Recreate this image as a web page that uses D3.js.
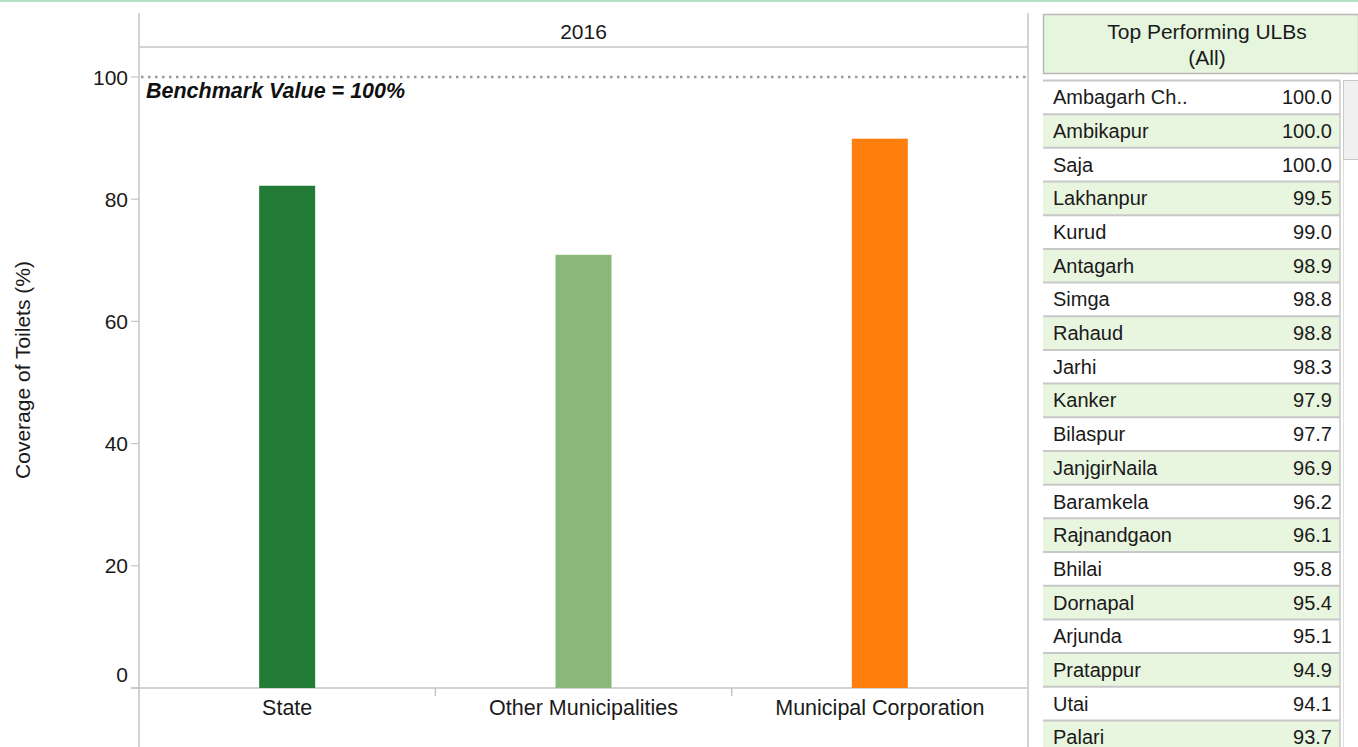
<!DOCTYPE html>
<html><head><meta charset="utf-8">
<script src="https://cdnjs.cloudflare.com/ajax/libs/d3/7.8.5/d3.min.js"></script>
<style>body{margin:0;background:#fff;font-family:Arial,"Liberation Sans",sans-serif;}</style>
</head><body><svg id="c" width="1358" height="747"></svg>
<script>
const categories = ["State", "Other Municipalities", "Municipal Corporation"];
const coverage = [82.2, 70.9, 89.9];
const barColors = ["#227b37", "#8ab77b", "#ff7f0e"];
const yTicks = [0, 20, 40, 60, 80, 100];
const benchmark = 100;
const yearLabel = "2016";
const ulbNames = ["Ambagarh Ch..", "Ambikapur", "Saja", "Lakhanpur", "Kurud", "Antagarh", "Simga", "Rahaud", "Jarhi", "Kanker", "Bilaspur", "JanjgirNaila", "Baramkela", "Rajnandgaon", "Bhilai", "Dornapal", "Arjunda", "Pratappur", "Utai", "Palari"];
const ulbValues = [100.0, 100.0, 100.0, 99.5, 99.0, 98.9, 98.8, 98.8, 98.3, 97.9, 97.7, 96.9, 96.2, 96.1, 95.8, 95.4, 95.1, 94.9, 94.1, 93.7];

(function(){
const svg = d3.select("#c");
const font = '"Liberation Sans",Arial,sans-serif';
const axisGrey = "#c4c4c4";
const txt = "#1a1a1a";

svg.append("rect").attr("x",0).attr("y",0).attr("width",1358).attr("height",2).attr("fill","#b5e3c4");

const pL = 139, pR = 1028, pT = 77, pB = 688;
const x = d3.scaleBand().domain(categories).range([pL, pR]);
const y = d3.scaleLinear().domain([0, 100]).range([pB, pT]);

[pL, pR].forEach(xx => svg.append("line").attr("x1",xx).attr("x2",xx).attr("y1",13).attr("y2",747).attr("stroke",axisGrey).attr("stroke-width",1.5));
svg.append("line").attr("x1",pL).attr("x2",pR).attr("y1",47).attr("y2",47).attr("stroke",axisGrey).attr("stroke-width",1.5);
svg.append("text").attr("x",(pL+pR)/2).attr("y",39).attr("text-anchor","middle").attr("font-family",font).attr("font-size",21).attr("fill",txt).text(yearLabel);

yTicks.forEach(t => {
  svg.append("line").attr("x1",131).attr("x2",pL).attr("y1",y(t)).attr("y2",y(t)).attr("stroke",axisGrey).attr("stroke-width",1.2);
  svg.append("text").attr("x",128).attr("y",t === 0 ? y(t)-6 : y(t)+7.5).attr("text-anchor","end").attr("font-family",font).attr("font-size",21).attr("fill",txt).text(t);
});
svg.append("text").attr("transform",`translate(30,370) rotate(-90)`).attr("text-anchor","middle").attr("font-family",font).attr("font-size",21).attr("fill",txt).text("Coverage of Toilets (%)");

svg.append("line").attr("x1",131).attr("x2",pR).attr("y1",pB).attr("y2",pB).attr("stroke",axisGrey).attr("stroke-width",1.5);
categories.slice(1).forEach(c => svg.append("line").attr("x1",x(c)).attr("x2",x(c)).attr("y1",pB).attr("y2",pB+8).attr("stroke",axisGrey).attr("stroke-width",1.5));
categories.forEach(c => svg.append("text").attr("x",x(c)+x.bandwidth()/2).attr("y",pB+27).attr("text-anchor","middle").attr("font-family",font).attr("font-size",21.5).attr("fill",txt).text(c));

const bw = 56;
svg.selectAll("rect.bar").data(categories).enter().append("rect").attr("class","bar")
  .attr("x",c => x(c)+x.bandwidth()/2-bw/2).attr("width",bw)
  .attr("y",(c,i)=>y(coverage[i])).attr("height",(c,i)=>y(0)-y(coverage[i]))
  .attr("fill",(c,i)=>barColors[i]);

svg.append("line").attr("x1",pL+2).attr("x2",pR).attr("y1",y(benchmark)).attr("y2",y(benchmark))
  .attr("stroke","#999").attr("stroke-width",2.5).attr("stroke-dasharray","2.5,4.5");
svg.append("text").attr("x",146).attr("y",y(benchmark)+21).attr("font-family",font).attr("font-size",21.5).attr("font-weight","bold").attr("font-style","italic").attr("fill","#111").text("Benchmark Value = 100%");

const tx0 = 1043, tx1 = 1340;
svg.append("rect").attr("x",tx0+0.5).attr("y",14.5).attr("width",1358-tx0).attr("height",59).attr("fill","#e6f5de").attr("stroke","#b8b8b8").attr("stroke-width",1.5);
svg.append("text").attr("x",1207).attr("y",39).attr("text-anchor","middle").attr("font-family",font).attr("font-size",21).attr("fill",txt).text("Top Performing ULBs");
svg.append("text").attr("x",1207).attr("y",65).attr("text-anchor","middle").attr("font-family",font).attr("font-size",21).attr("fill",txt).text("(All)");

const rowTop = 80.5, rowH = 33.68;
const ry = d3.scaleLinear().domain([0,1]).range([rowTop, rowTop+rowH]);
ulbNames.forEach((n,i) => {
  svg.append("rect").attr("x",tx0).attr("y",ry(i)).attr("width",tx1-tx0).attr("height",rowH).attr("fill", i%2 ? "#e8f5df" : "#ffffff");
  svg.append("line").attr("x1",tx0).attr("x2",tx1).attr("y1",ry(i)).attr("y2",ry(i)).attr("stroke","#c8c8c8").attr("stroke-width",2);
  svg.append("text").attr("x",1053).attr("y",ry(i)+rowH/2+7).attr("font-family",font).attr("font-size",20).attr("fill",txt).text(n);
  svg.append("text").attr("x",1332).attr("y",ry(i)+rowH/2+7).attr("text-anchor","end").attr("font-family",font).attr("font-size",20).attr("fill",txt).text(ulbValues[i].toFixed(1));
});
svg.append("line").attr("x1",tx1).attr("x2",tx1).attr("y1",rowTop).attr("y2",747).attr("stroke","#c8c8c8").attr("stroke-width",1.5);
svg.append("rect").attr("x",1343.5).attr("y",80.5).attr("width",16).attr("height",79).attr("fill","#f0f0f0").attr("stroke","#c8c8c8").attr("stroke-width",1);
svg.append("line").attr("x1",1343.5).attr("x2",1343.5).attr("y1",160).attr("y2",747).attr("stroke","#e0e0e0").attr("stroke-width",1);
})();
</script></body></html>
